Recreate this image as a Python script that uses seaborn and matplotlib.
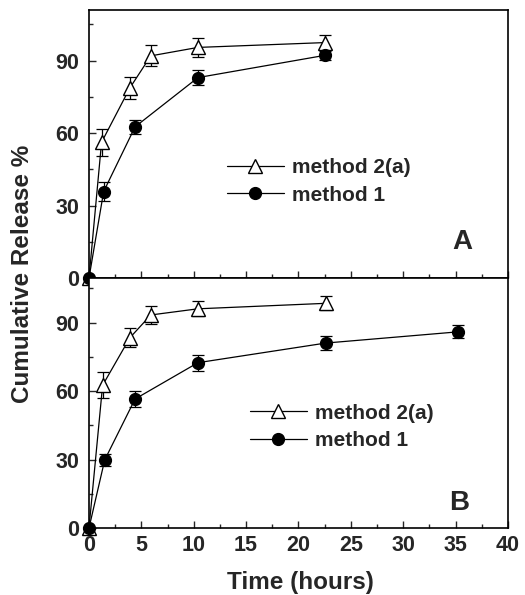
import numpy as np
import pandas as pd
import matplotlib
matplotlib.use("Agg")
import matplotlib.pyplot as plt
from matplotlib.ticker import MultipleLocator
import seaborn as sns

# --------------------------------------------------
# DATA
# --------------------------------------------------

# panel A
a_time_m2 = [0, 1.2, 3.9, 5.9, 10.4, 22.5]
a_rel_m2 = [0, 56.2, 78.7, 92.0, 95.5, 97.5]
a_err_m2 = [0, 5.5, 4.5, 4.3, 4.0, 3.0]

a_time_m1 = [0, 1.4, 4.4, 10.4, 22.5]
a_rel_m1 = [0, 35.8, 62.6, 83.0, 92.2]
a_err_m1 = [0, 3.8, 3.0, 3.1, 2.0]

# panel B
b_time_m2 = [0, 1.3, 3.9, 5.9, 10.4, 22.6]
b_rel_m2 = [0, 62.5, 83.3, 93.3, 96.0, 98.4]
b_err_m2 = [0, 5.7, 4.2, 3.9, 3.3, 3.0]

b_time_m1 = [0, 1.5, 4.4, 10.4, 22.6, 35.2]
b_rel_m1 = [0, 29.8, 56.5, 72.4, 81.0, 85.9]
b_err_m1 = [0, 2.7, 3.7, 3.5, 3.1, 2.8]

labels = ["method 2(a)", "method 1"]

# --------------------------------------------------
# STYLE
# --------------------------------------------------

sns.set_style("ticks")
plt.rcParams["font.family"] = ["Liberation Sans", "DejaVu Sans"]
plt.rcParams["font.weight"] = "bold"

fig = plt.figure(figsize=(5.25, 5.95), dpi=100)

ax_a = fig.add_axes([0.1695, 0.5328, 0.7981, 0.4504])
ax_b = fig.add_axes([0.1695, 0.1126, 0.7981, 0.4202])


def draw_series(ax, t, y, err, marker, face, label):
    sns.lineplot(
        x=t, y=y, ax=ax,
        color="black", lw=0.9,
        marker=marker, ms=9.5 if marker == "^" else 8.5,
        mfc=face, mec="black", mew=1.0,
        label=label, clip_on=False, zorder=3,
    )
    ax.errorbar(
        t[1:], y[1:], yerr=err[1:],
        fmt="none", ecolor="black",
        elinewidth=0.9, capsize=4, capthick=0.9,
        zorder=2,
    )


draw_series(ax_a, a_time_m2, a_rel_m2, a_err_m2, "^", "white", labels[0])
draw_series(ax_a, a_time_m1, a_rel_m1, a_err_m1, "o", "black", labels[1])

draw_series(ax_b, b_time_m2, b_rel_m2, b_err_m2, "^", "white", labels[0])
draw_series(ax_b, b_time_m1, b_rel_m1, b_err_m1, "o", "black", labels[1])

# --------------------------------------------------
# AXES FORMATTING
# --------------------------------------------------

for ax, ytop in [(ax_a, 111), (ax_b, 109.5)]:
    ax.set_xlim(0, 40)
    ax.set_ylim(0, ytop)
    ax.xaxis.set_major_locator(MultipleLocator(5))
    ax.xaxis.set_minor_locator(MultipleLocator(2.5))
    ax.yaxis.set_major_locator(MultipleLocator(30))
    ax.yaxis.set_minor_locator(MultipleLocator(15))
    ax.tick_params(which="both", direction="in", top=False, right=False,
                   width=1.0, labelsize=15.5)
    ax.tick_params(which="major", length=5)
    ax.tick_params(which="minor", length=3)
    ax.tick_params(axis="y", pad=7)
    ax.tick_params(axis="x", pad=5)
    for s in ax.spines.values():
        s.set_linewidth(1.2)
        s.set_color("black")
    ax.set_xlabel("")
    ax.set_ylabel("")

ax_a.tick_params(labelbottom=False)
ax_b.set_xticks(range(0, 41, 5))

# legends
ax_a.legend(loc="center left", bbox_to_anchor=(0.33, 0.36),
            frameon=False, fontsize=15, handlelength=2.7,
            handletextpad=0.4, labelspacing=0.4,
            borderpad=0, borderaxespad=0)
ax_b.legend(loc="center left", bbox_to_anchor=(0.385, 0.405),
            frameon=False, fontsize=15, handlelength=2.7,
            handletextpad=0.4, labelspacing=0.4,
            borderpad=0, borderaxespad=0)

ax_a.text(0.89, 0.134, "A", transform=ax_a.transAxes,
          fontsize=20, ha="center", va="center")
ax_b.text(0.883, 0.10, "B", transform=ax_b.transAxes,
          fontsize=20, ha="center", va="center")

fig.text(23 / 525, 1 - 274 / 595, "Cumulative Release %",
         rotation=90, ha="center", va="center", fontsize=17.5)
fig.text(0.573, 0.021, "Time (hours)",
         ha="center", va="center", fontsize=17.5)

fig.savefig("out.png", dpi=100)
plt.close(fig)
